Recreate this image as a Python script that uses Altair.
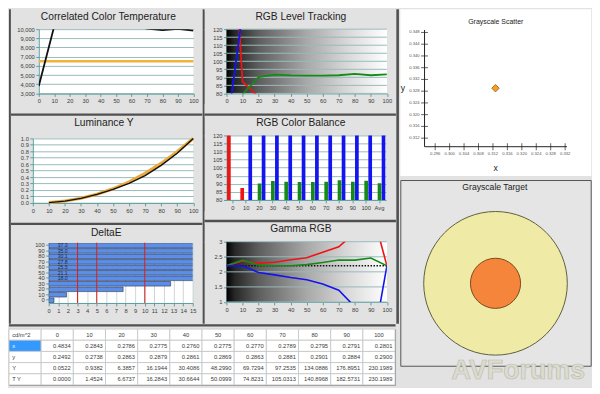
import altair as alt
import pandas as pd

# ---------------- data ----------------
LEVELS = [0, 10, 20, 30, 40, 50, 60, 70, 80, 90, 100]
LEVEL_LABELS = ["0", "10", "20", "30", "40", "50", "60", "70", "80", "90", "100"]
BALANCE_CATS = LEVEL_LABELS + ["Avg"]

CCT_MEASURED = [3800, 10330, 10200, 10240, 10510, 10290, 10380, 10070, 9905, 10040, 9850]
CCT_TARGET = [6500]

RGB_RED = [250, 87.3, 77.8, 75.5, 74.5, 73.5, 72.5, 71.5, 70.5, 69.5, 70.5]
RGB_GREEN = [60, 79.5, 90.1, 91.7, 91.2, 91.1, 91.1, 91.3, 92.2, 91.3, 91.9]
RGB_BLUE = [56, 130, 138, 140, 142, 143, 144, 146, 147, 148, 146]
RGB_AVG = [73.0, 90.3, 142.0]  # red, green, blue

GAMMA_RED = [2.2, 2.36, 2.29, 2.32, 2.40, 2.47, 2.65, 2.83, 3.30, 4.20, 2.2]
GAMMA_GREEN = [2.2, 2.39, 2.23, 2.20, 2.20, 2.24, 2.31, 2.39, 2.39, 2.46, 2.2]
GAMMA_BLUE = [2.2, 2.19, 1.98, 1.90, 1.81, 1.74, 1.60, 1.39, 0.84, -0.80, 2.2]
GAMMA_TARGET = [2.2]

DELTA_E = [0.55, 1.85, 7.75, 12.7, 18.0, 21.1, 25.5, 27.8, 30.1, 35.0, 37.3]
DELTA_E_LIMITS = [3, 5, 10]

TABLE_COLUMNS = ["cd/m^2"] + LEVEL_LABELS
TABLE_ROW_NAMES = ["x", "y", "Y", "T Y"]
TABLE_X = [0.4834, 0.2843, 0.2786, 0.2775, 0.2760, 0.2775, 0.2770, 0.2789, 0.2795, 0.2791, 0.2801]
TABLE_Y = [0.2492, 0.2738, 0.2863, 0.2879, 0.2861, 0.2869, 0.2863, 0.2881, 0.2901, 0.2884, 0.2900]
TABLE_LUM = [0.0522, 0.9382, 6.3857, 16.1944, 30.4086, 48.2990, 69.7294, 97.2535, 134.0886, 176.8951, 230.1989]
TABLE_TARGET_LUM = [0.0000, 1.4524, 6.6737, 16.2843, 30.6644, 50.0999, 74.8231, 105.0313, 140.8968, 182.5731, 230.1989]

SCATTER_X_TICKS = [0.296, 0.300, 0.304, 0.308, 0.312, 0.316, 0.320, 0.324, 0.328, 0.332]
SCATTER_Y_TICKS = [0.312, 0.316, 0.320, 0.324, 0.328, 0.332, 0.336, 0.340, 0.344, 0.348]
WHITE_POINT = [0.3127, 0.3290]

# axis settings
CCT_AXIS = [3000, 4000, 5000, 6000, 7000, 8000, 9000, 10000]
RGB_AXIS = [80, 85, 90, 95, 100, 105, 110, 115, 120]
LUM_AXIS = [0.0, 0.1, 0.2, 0.3, 0.4, 0.5, 0.6, 0.7, 0.8, 0.9, 1.0]
GAMMA_AXIS = [1, 1.5, 2, 2.5, 3]
DE_AXIS = [0, 1, 2, 3, 4, 5, 6, 7, 8, 9, 10, 11, 12, 13, 14, 15]
SC_X_DOMAIN = [0.28634, 0.33922]
SC_Y_DOMAIN = [0.29912, 0.35589]
SC_X_LINE = [0.29305, 0.3325]
SC_Y_LINE = [0.30908, 0.34884]
TG_X_DOMAIN = [-96, 96]
TG_Y_DOMAIN = [-83, 104]

# ---------------- style ----------------
FONT = "Liberation Sans"
BG = "#e2e2e2"
SEP = "#505050"
TEAL = "#5c9e9f"
GRIDC = "#98baba"
TXT = "#3a3a3a"
RED, GREEN, BLUE = "#ee1414", "#168a16", "#1414ee"
GRADIENT = alt.Gradient(
    gradient="linear", x1=0, x2=1, y1=0, y2=0,
    stops=[
        alt.GradientStop(color="#000000", offset=0),
        alt.GradientStop(color="#262626", offset=0.05),
        alt.GradientStop(color="#5e5e5e", offset=0.2),
        alt.GradientStop(color="#a8a8a8", offset=0.5),
        alt.GradientStop(color="#d8d8d8", offset=0.75),
        alt.GradientStop(color="#ffffff", offset=1),
    ],
)


def blank(w, h, fill=BG):
    return alt.Chart(pd.DataFrame({"s": [0]})).mark_point(opacity=0, size=0, strokeWidth=0).properties(
        width=w, height=h, view=alt.ViewBackground(fill=fill, strokeWidth=0)
    )


def padl(chart, a):
    return alt.hconcat(blank(a, 1), chart, spacing=0, bounds="flush")


def level_x():
    return alt.X("level:Q", scale=alt.Scale(domain=[0, 100], nice=False, zero=False),
                 axis=alt.Axis(values=LEVELS, grid=False, format="d", labelOverlap=False), title=None)


def yenc(domain, values, fmt=None, grid=True):
    kw = dict(values=values, grid=grid, labelOverlap=False)
    if fmt:
        kw["format"] = fmt
    return alt.Y("value:Q", scale=alt.Scale(domain=domain, nice=False, zero=False),
                 axis=alt.Axis(**kw), title=None)


rgb_color = alt.Color("channel:N", scale=alt.Scale(domain=["Red", "Green", "Blue"],
                                                   range=[RED, GREEN, BLUE]), legend=None)

# ---------------- CCT ----------------
cct_y = yenc([3000, 10000], CCT_AXIS, ",d")
cct = alt.layer(
    alt.Chart(pd.DataFrame({"value": CCT_TARGET})).mark_rule(color="#f3b13d", strokeWidth=2.5).encode(y=cct_y),
    alt.Chart(pd.DataFrame({"level": LEVELS, "value": CCT_MEASURED})).mark_line(
        color="#111111", strokeWidth=1.8, clip=True).encode(x=level_x(), y=cct_y),
).properties(width=155.7, height=64.7, title=alt.TitleParams("Correlated Color Temperature", dx=-7.8))


# ---------------- gradient helpers ----------------
def gradient_layer(domain, y):
    df = pd.DataFrame({"level": [0], "level2": [100], "value": [domain[0]], "value2": [domain[1]]})
    return alt.Chart(df).mark_rect(color=GRADIENT).encode(
        x=level_x(), x2=alt.X2("level2"), y=y, y2=alt.Y2("value2"))


def grid_layer(values, y):
    return alt.Chart(pd.DataFrame({"value": values})).mark_rule(color=GRIDC, strokeWidth=1).encode(y=y)


rgb_rows = []
for i, lv in enumerate(LEVELS):
    for ch, arr in (("Red", RGB_RED), ("Green", RGB_GREEN), ("Blue", RGB_BLUE)):
        rgb_rows.append({"level": lv, "channel": ch, "value": arr[i]})
rgb_df = pd.DataFrame(rgb_rows)

lvl_y = yenc([80, 120], RGB_AXIS, grid=False)
level = alt.layer(
    gradient_layer([80, 120], lvl_y),
    grid_layer(RGB_AXIS, lvl_y),
    alt.Chart(rgb_df).mark_line(strokeWidth=1.8, clip=True).encode(x=level_x(), y=lvl_y, color=rgb_color),
).properties(width=161.5, height=64.7, title=alt.TitleParams("RGB Level Tracking", dx=-5.9))

# ---------------- Luminance ----------------
lum_rows = []
for i, lv in enumerate(LEVELS):
    if lv == 0:
        continue
    lum_rows.append({"level": lv, "series": "target", "value": TABLE_TARGET_LUM[i] / TABLE_TARGET_LUM[-1]})
    lum_rows.append({"level": lv, "series": "measured", "value": TABLE_LUM[i] / TABLE_LUM[-1]})
lum_df = pd.DataFrame(lum_rows)
lum_y = yenc([0, 1], LUM_AXIS, ".1f")
lum = alt.layer(
    alt.Chart(lum_df).transform_filter(alt.datum.series == "target").mark_line(
        color="#eaa93a", strokeWidth=3.2).encode(x=level_x(), y=lum_y),
    alt.Chart(lum_df).transform_filter(alt.datum.series == "measured").mark_line(
        color="#111111", strokeWidth=1.4).encode(x=level_x(), y=lum_y),
).properties(width=161.5, height=64.9, title=alt.TitleParams("Luminance Y", dx=-9.2))

# ---------------- RGB Color Balance ----------------
bal_rows = []
for i, cat in enumerate(BALANCE_CATS):
    vals = [RGB_RED[i], RGB_GREEN[i], RGB_BLUE[i]] if i < len(LEVELS) else RGB_AVG
    for ch, v in zip(["Red", "Green", "Blue"], vals):
        bal_rows.append({"cat": cat, "channel": ch, "value": v})
bal_df = pd.DataFrame(bal_rows)
bal_y = yenc([80, 120], RGB_AXIS)
balance = alt.Chart(bal_df).mark_bar(clip=True).encode(
    x=alt.X("cat:N", sort=BALANCE_CATS, scale=alt.Scale(paddingInner=0.12, paddingOuter=0.04),
            axis=alt.Axis(labelAngle=0, grid=False, labelOverlap=False), title=None),
    xOffset=alt.XOffset("channel:N", sort=["Red", "Green", "Blue"], scale=alt.Scale(paddingInner=0.08)),
    y=bal_y,
    color=rgb_color,
).properties(width=160.5, height=64.9, title=alt.TitleParams("RGB Color Balance", dx=-5.5))

# ---------------- DeltaE ----------------
de_df = pd.DataFrame({"cat": LEVEL_LABELS, "de": DELTA_E})
de_axis = alt.Axis(values=DE_AXIS, grid=True, gridColor="#cdd6d6", format="d", labelOverlap=False)
de_scale = alt.Scale(domain=[0, 15], nice=False, zero=False)
de_x = alt.X("de:Q", scale=de_scale, axis=de_axis, title=None)
de_y = alt.Y("cat:N", sort=list(reversed(LEVEL_LABELS)),
             scale=alt.Scale(paddingInner=0.16, paddingOuter=0.08),
             axis=alt.Axis(grid=False, labelOverlap=False), title=None)
deltae = alt.layer(
    alt.Chart(de_df).mark_bar(color="#5b8ee6", stroke="#2b3550", strokeWidth=0.6, clip=True).encode(x=de_x, y=de_y),
    alt.Chart(pd.DataFrame({"de": DELTA_E_LIMITS})).mark_rule(color="#dd2020", strokeWidth=1).encode(x=de_x),
    alt.Chart(de_df).transform_filter(alt.datum.de > 15).transform_calculate(start="0").mark_text(
        align="left", baseline="middle", dx=9, fontSize=5.2, color="#1e2a44").encode(
        x=alt.X("start:Q", scale=de_scale, axis=de_axis, title=None), y=de_y,
        text=alt.Text("de:Q", format=".1f")),
).properties(width=145, height=60.7, title=alt.TitleParams("DeltaE", dx=-14.6))

# ---------------- Gamma RGB ----------------
gam_rows = []
for i, lv in enumerate(LEVELS):
    for ch, arr in (("Red", GAMMA_RED), ("Green", GAMMA_GREEN), ("Blue", GAMMA_BLUE)):
        gam_rows.append({"level": lv, "channel": ch, "value": arr[i]})
gam_df = pd.DataFrame(gam_rows)
gam_y = yenc([1, 3], GAMMA_AXIS, "~g", grid=False)
gamma = alt.layer(
    gradient_layer([1, 3], gam_y),
    grid_layer(GAMMA_AXIS, gam_y),
    alt.Chart(pd.DataFrame({"value": GAMMA_TARGET})).mark_rule(
        color="#111111", strokeWidth=1.4, strokeDash=[1.5, 1.5]).encode(y=gam_y),
    alt.Chart(gam_df).mark_line(strokeWidth=1.6, clip=True).encode(x=level_x(), y=gam_y, color=rgb_color),
).properties(width=161.5, height=60.7, title=alt.TitleParams("Gamma RGB", dx=-5.9))

# ---------------- table ----------------
cells = []
for c, name in enumerate(TABLE_COLUMNS):
    cells.append({"row": 0, "col": c, "text": name, "kind": "label" if c == 0 else "head", "sel": 0})
for r, (rname, vals) in enumerate(zip(TABLE_ROW_NAMES, [TABLE_X, TABLE_Y, TABLE_LUM, TABLE_TARGET_LUM]), start=1):
    cells.append({"row": r, "col": 0, "text": rname, "kind": "label", "sel": 1 if r == 1 else 0})
    for c, v in enumerate(vals, start=1):
        cells.append({"row": r, "col": c, "text": f"{v:.4f}", "kind": "value", "sel": 0})
cell_df = pd.DataFrame(cells)
tx = alt.X("col:O", axis=None, scale=alt.Scale(paddingInner=0, paddingOuter=0))
ty = alt.Y("row:O", axis=None, scale=alt.Scale(paddingInner=0, paddingOuter=0))
base_t = alt.Chart(cell_df)
table = alt.layer(
    base_t.mark_rect(stroke="#c4c4c4", strokeWidth=0.8).encode(
        x=tx, y=ty,
        fill=alt.when(alt.datum.sel == 1).then(alt.value("#3399ff")).otherwise(alt.value("white"))),
    base_t.transform_filter(alt.datum.kind == "head").mark_text(fontSize=5.8, color=TXT).encode(
        x=tx, y=ty, text="text:N"),
    base_t.transform_filter(alt.datum.kind == "label").mark_text(fontSize=5.8, align="left", dx=-13).encode(
        x=tx, y=ty, text="text:N",
        color=alt.when(alt.datum.sel == 1).then(alt.value("white")).otherwise(alt.value(TXT))),
    base_t.transform_filter(alt.datum.kind == "value").mark_text(fontSize=5.8, align="right", dx=13.5, color=TXT).encode(
        x=tx, y=ty, text="text:N"),
).properties(width=388.7, height=56.2, view=alt.ViewBackground(fill="white", stroke="#8a8a8a", strokeWidth=1))

# ---------------- Grayscale scatter ----------------
SX = alt.Scale(domain=SC_X_DOMAIN, nice=False, zero=False)
SY = alt.Scale(domain=SC_Y_DOMAIN, nice=False, zero=False)
sxe = alt.X("x:Q", scale=SX, axis=None)
sye = alt.Y("y:Q", scale=SY, axis=None)
xt_df = pd.DataFrame({"x": SCATTER_X_TICKS, "y": [SC_Y_LINE[0]] * len(SCATTER_X_TICKS)})
yt_df = pd.DataFrame({"x": [SC_X_LINE[0]] * len(SCATTER_Y_TICKS), "y": SCATTER_Y_TICKS})
scatter = alt.layer(
    alt.Chart(pd.DataFrame({"x": [SC_X_LINE[0]], "x2": [SC_X_LINE[1]], "y": [SC_Y_LINE[0]]})).mark_rule(
        color="#222222", strokeWidth=1).encode(x=sxe, x2=alt.X2("x2"), y=sye),
    alt.Chart(pd.DataFrame({"x": [SC_X_LINE[0]], "y": [SC_Y_LINE[0]], "y2": [SC_Y_LINE[1]]})).mark_rule(
        color="#222222", strokeWidth=1).encode(x=sxe, y=sye, y2=alt.Y2("y2")),
    alt.Chart(xt_df).mark_tick(orient="vertical", size=7, thickness=1, color="#222222").encode(x=sxe, y=sye),
    alt.Chart(yt_df).mark_tick(orient="horizontal", size=7, thickness=1, color="#222222").encode(x=sxe, y=sye),
    alt.Chart(xt_df).mark_text(fontSize=4.2, dy=7.5, color="#555555").encode(
        x=sxe, y=sye, text=alt.Text("x:Q", format=".3f")),
    alt.Chart(yt_df).mark_text(fontSize=4.2, align="right", dx=-5, color="#555555").encode(
        x=sxe, y=sye, text=alt.Text("y:Q", format=".3f")),
    alt.Chart(pd.DataFrame({"x": [sum(SC_X_LINE) / 2], "y": [SC_Y_LINE[0]], "t": ["x"]})).mark_text(
        fontSize=8.7, dy=21, color="#222222").encode(x=sxe, y=sye, text="t:N"),
    alt.Chart(pd.DataFrame({"x": [SC_X_DOMAIN[0]], "y": [sum(SC_Y_LINE) / 2], "t": ["y"]})).mark_text(
        fontSize=8.7, align="left", dx=0.5, color="#222222").encode(x=sxe, y=sye, text="t:N"),
    alt.Chart(pd.DataFrame({"x": [WHITE_POINT[0]], "y": [WHITE_POINT[1]]})).mark_point(
        shape="diamond", filled=True, size=55, color="#f0a030", stroke="#b86e10", strokeWidth=1, opacity=1).encode(
        x=sxe, y=sye),
).properties(width=192.2, height=167.8,
             title=alt.TitleParams("Grayscale Scatter", fontSize=7, offset=-15.5, dx=0),
             view=alt.ViewBackground(fill="white", strokeWidth=0))

# ---------------- Grayscale target ----------------
TX = alt.Scale(domain=TG_X_DOMAIN, nice=False, zero=False)
TYs = alt.Scale(domain=TG_Y_DOMAIN, nice=False, zero=False)
txe = alt.X("x:Q", scale=TX, axis=None)
tye = alt.Y("y:Q", scale=TYs, axis=None)
ring_df = pd.DataFrame({"x": [0], "y": [0]})
target = alt.layer(
    alt.Chart(ring_df).mark_circle(size=20900, color="#efeba6", stroke="#5e5e40", strokeWidth=1, opacity=1).encode(
        x=txe, y=tye),
    alt.Chart(ring_df).mark_circle(size=2550, color="#f5853a", stroke="#7a4a1e", strokeWidth=1, opacity=1).encode(
        x=txe, y=tye),
    alt.Chart(pd.DataFrame({"t": ["AVForums"]})).mark_text(
        fontSize=27, fontWeight="bold", color="#dcdcd0", stroke="#bdbdad", strokeWidth=0.7,
        baseline="middle", dx=23, dy=5).encode(x=alt.datum(0), y=alt.datum(TG_Y_DOMAIN[0]), text="t:N"),
).properties(width=191.7, height=187,
             title=alt.TitleParams("Grayscale Target", fontSize=8.7, offset=-11.5, dx=-0.7),
             view=alt.ViewBackground(fill="#e5e5e5", stroke="#555555", strokeWidth=1))

# ---------------- layout ----------------
col1 = alt.vconcat(
    blank(1, 1.2), padl(cct, 27.3), blank(1, 9.6), blank(192.7, 2.3, SEP), blank(1, 0.6),
    padl(lum, 21.5), blank(1, 8.7), blank(192.7, 2.3, SEP), blank(1, 0.6), padl(deltae, 38.0),
    spacing=0)
col2 = alt.vconcat(
    blank(1, 1.2), padl(level, 21.4), blank(1, 9.6), blank(192.6, 2.3, SEP), blank(1, 0.6),
    padl(balance, 21.4), blank(1, 8.7), blank(192.6, 2.3, SEP), blank(1, 0.6), padl(gamma, 21.4),
    spacing=0)
cols = alt.hconcat(blank(1.9, 316.5, SEP), col1, blank(2, 316.5, SEP), col2, spacing=0)
left = alt.vconcat(cols, blank(389.2, 2.3, SEP), blank(1, 0.5), table, spacing=0)
right = alt.vconcat(scatter, target, spacing=2.9)

chart = alt.hconcat(left, blank(2.6, 316.5, SEP), right, spacing=0).properties(
    background=BG, padding=0
).configure_view(
    strokeWidth=0, fill="white"
).configure_axis(
    labelFont=FONT, labelFontSize=5.8, labelColor=TXT, domainColor=TEAL, tickColor=TEAL,
    gridColor=GRIDC, tickSize=3, labelPadding=1.5, labelFlush=False, labelOverlap=False,
    domainWidth=1, tickWidth=1, gridWidth=1,
).configure_title(
    font=FONT, fontSize=10.3, fontWeight="normal", color="#222222", anchor="middle",
    baseline="alphabetic", offset=4,
).configure_text(font=FONT)

chart.save("out.html", embed_options={"renderer": "svg", "actions": False})
